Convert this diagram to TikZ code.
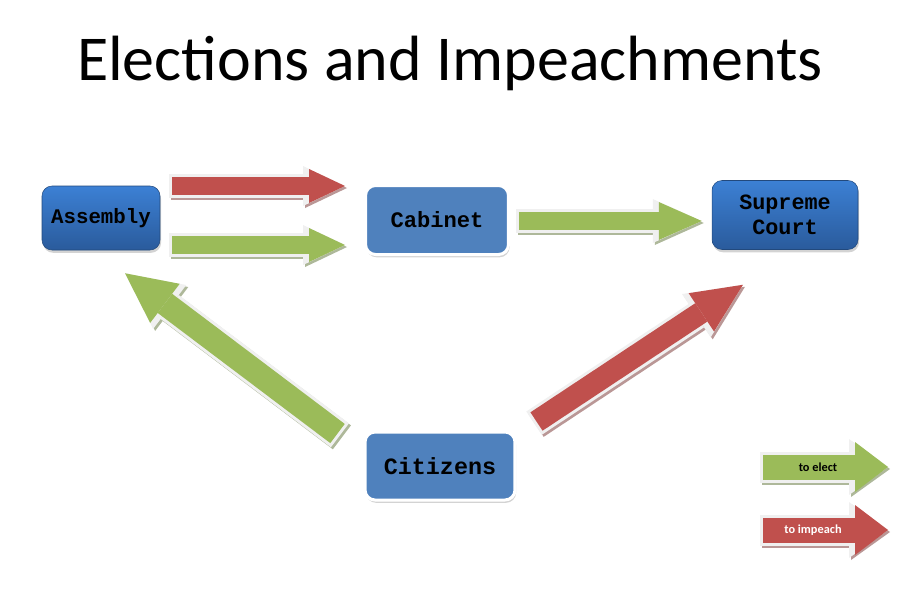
\documentclass[tikz,border=0pt]{standalone}
\usepackage{fontspec}
\setmainfont{Carlito}
\newfontfamily\boxfont{Liberation Mono}
\usetikzlibrary{arrows.meta,calc,shadows,positioning}

\definecolor{boxblue}{HTML}{4F81BD}
\definecolor{topblue}{HTML}{3C80D4}
\definecolor{botblue}{HTML}{2A5B9C}
\definecolor{electgreen}{HTML}{9BBB59}
\definecolor{impeachred}{HTML}{C0504D}

\tikzset{
  box/.style={rounded corners=0.2cm, align=center, inner sep=2pt,
    drop shadow={shadow xshift=0.6pt, shadow yshift=-1.6pt, opacity=0.35}},
  shadebox/.style={box, top color=topblue, bottom color=botblue,
    draw=botblue!80!black, line width=0.3pt},
  flatbox/.style={box, fill=boxblue, draw=white, line width=0.06cm},
  % block arrow: colour, shaft, head width - shaft, head length - shaft
  blk/.style n args={4}{draw=#1, line width=#2,
    -{Triangle[width=#3 1, length=#4 1, line width=0pt]},
    preaction={draw=#1!45!gray!70, line width=#2+0.12cm, shorten <=-0.06cm,
      transform canvas={shift={(2,2)}},
      -{Triangle[width=#3 1, length=#4 1, line width=0pt]}},
    preaction={draw=white!94!black, line width=#2+0.12cm, shorten <=-0.06cm,
      -{Triangle[width=#3 1, length=#4 1, line width=0pt]}}},
  keytext/.style={font=\bfseries\fontsize{7}{8}\selectfont, inner sep=0pt}
}

\begin{document}
\begin{tikzpicture}[x=0.02cm, y=-0.02cm]
  \useasboundingbox (0,0) rectangle (918,592);

  \node[anchor=base, font=\fontsize{36.4}{42}\selectfont] (title) at (450,80)
    {Elections and Impeachments};

  % offices
  \node[shadebox, minimum width=2.36cm, minimum height=1.28cm,
    font=\boxfont\bfseries\fontsize{11.8}{14}\selectfont] (asm) at (101,218) {Assembly};
  \node[flatbox, minimum width=2.86cm, minimum height=1.38cm,
    font=\boxfont\bfseries\fontsize{12.6}{15}\selectfont] (cab) at (437,220) {Cabinet};
  \node[shadebox, minimum width=2.92cm, minimum height=1.38cm,
    font=\boxfont\bfseries\fontsize{12.4}{14.2}\selectfont] (sup) at (785,215) {Supreme\\Court};
  \node[flatbox, minimum width=3.0cm, minimum height=1.36cm,
    font=\boxfont\bfseries\fontsize{13.3}{16}\selectfont] (cit) at (440,466) {Citizens};

  % who elects and impeaches whom
  \draw[blk={impeachred}{0.36cm}{0.32cm}{0.36cm}]
    ($(asm.east)+(12,-32)$) -- ($(cab.west)+(-19,-34)$);
  \draw[blk={electgreen}{0.36cm}{0.32cm}{0.36cm}]
    ($(asm.east)+(12,27)$) -- ($(cab.west)+(-19,25)$);
  \draw[blk={electgreen}{0.36cm}{0.4cm}{0.5cm}]
    ($(cab.east)+(9,1)$) -- ($(sup.west)+(-10,6)$);
  \draw[blk={electgreen}{0.48cm}{0.5cm}{0.52cm}]
    ($(cit.north west)+(-26,3)$) -- ($(asm.south)+(24,23)$);
  \draw[blk={impeachred}{0.44cm}{0.48cm}{0.56cm}]
    ($(cit.north east)+(20,-9)$) -- ($(sup.south)+(-42,35)$);

  % key
  \coordinate (eleft) at (763,467);
  \coordinate (eright) at (888,467);
  \coordinate (ileft) at (763,530);
  \coordinate (iright) at (888,530);
  \draw[blk={electgreen}{0.5cm}{0.5cm}{0.16cm}] (eleft) --
    node[pos=0.44, keytext] (ekey) {to elect} (eright);
  \draw[blk={impeachred}{0.5cm}{0.5cm}{0.16cm}] (ileft) --
    node[pos=0.4, keytext, text=white] (ikey) {to impeach} (iright);
\end{tikzpicture}
\end{document}
